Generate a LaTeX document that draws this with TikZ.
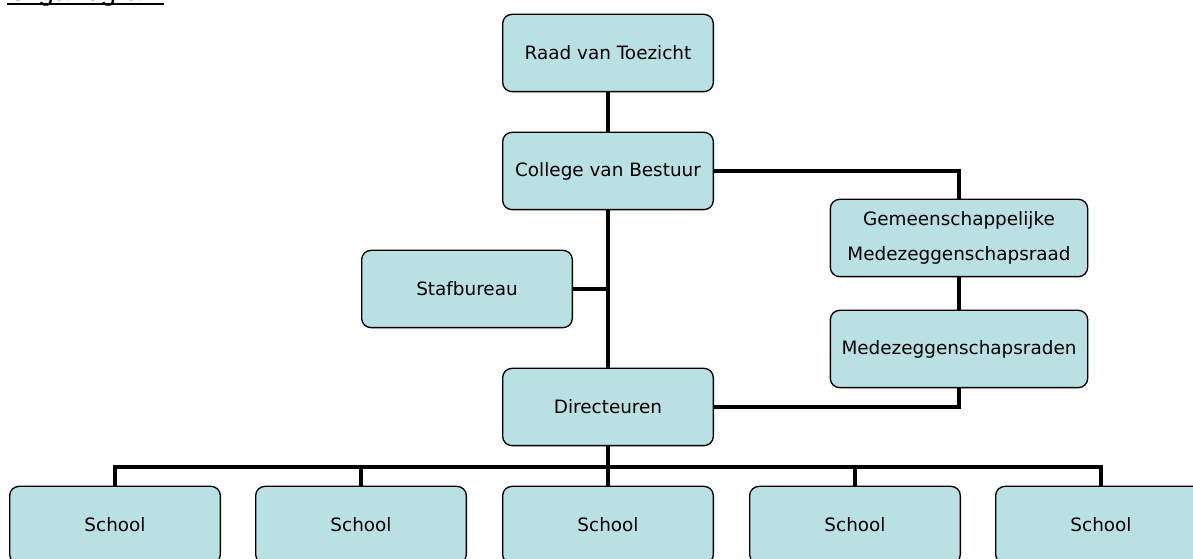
\documentclass[tikz,border=0pt]{standalone}
\usepackage{fontspec}
\setmainfont{DejaVu Sans}
\newfontfamily\titlefont{Liberation Sans}
\definecolor{boxblue}{RGB}{185,224,227}
\tikzset{
  orgbox/.style={draw=black, line width=1pt, fill=boxblue, rounded corners=7pt,
    minimum width=158pt, minimum height=58pt, align=center,
    font=\fontsize{13.8}{26}\selectfont},
  link/.style={line width=3.4pt}
}
\begin{document}
\begin{tikzpicture}[x=0.75pt,y=-0.75pt]
    \useasboundingbox (0,0) rectangle (1193,559);
    % title
    \node[anchor=base west, inner sep=0pt, font=\titlefont\fontsize{21}{24}\selectfont] (title) at (7,1) {Organogram};
    \draw[line width=1.5pt] (title.base west) ++(0,3) -- ++(157,0);
    % boxes
    \node[orgbox] (raad) at (608,53) {Raad van Toezicht};
    \node[orgbox] (college) at (608,171) {College van Bestuur};
    \node[orgbox] (staf) at (467,289) {Stafbureau};
    \node[orgbox] (dir) at (608,407) {Directeuren};
    \node[orgbox, minimum width=193pt] (gmr) at (959,238) {Gemeenschappelijke\\Medezeggenschapsraad};
    \node[orgbox, minimum width=193pt] (mzr) at (959,349) {Medezeggenschapsraden};
    \foreach \x [count=\i] in {115,361,608,855,1101}
      \node[orgbox] (school\i) at (\x,525) {School};
    \coordinate (bus) at (608,467);
    % lines
    \draw[link] (raad) -- (college);
    \draw[link] (college) -- (dir);
    \draw[link] (staf.east) -- (staf.east -| college);
    \draw[link] (college.east) -| (gmr.north);
    \draw[link] (gmr) -- (mzr);
    \draw[link] (mzr.south) |- (dir.east);
    \draw[link] (dir.south) -- (bus);
    \draw[link] (school1.north) |- (bus) -| (school5.north);
    \foreach \i in {2,3,4}
      \draw[link] (school\i.north) -- (school\i.north |- bus);
\end{tikzpicture}
\end{document}
